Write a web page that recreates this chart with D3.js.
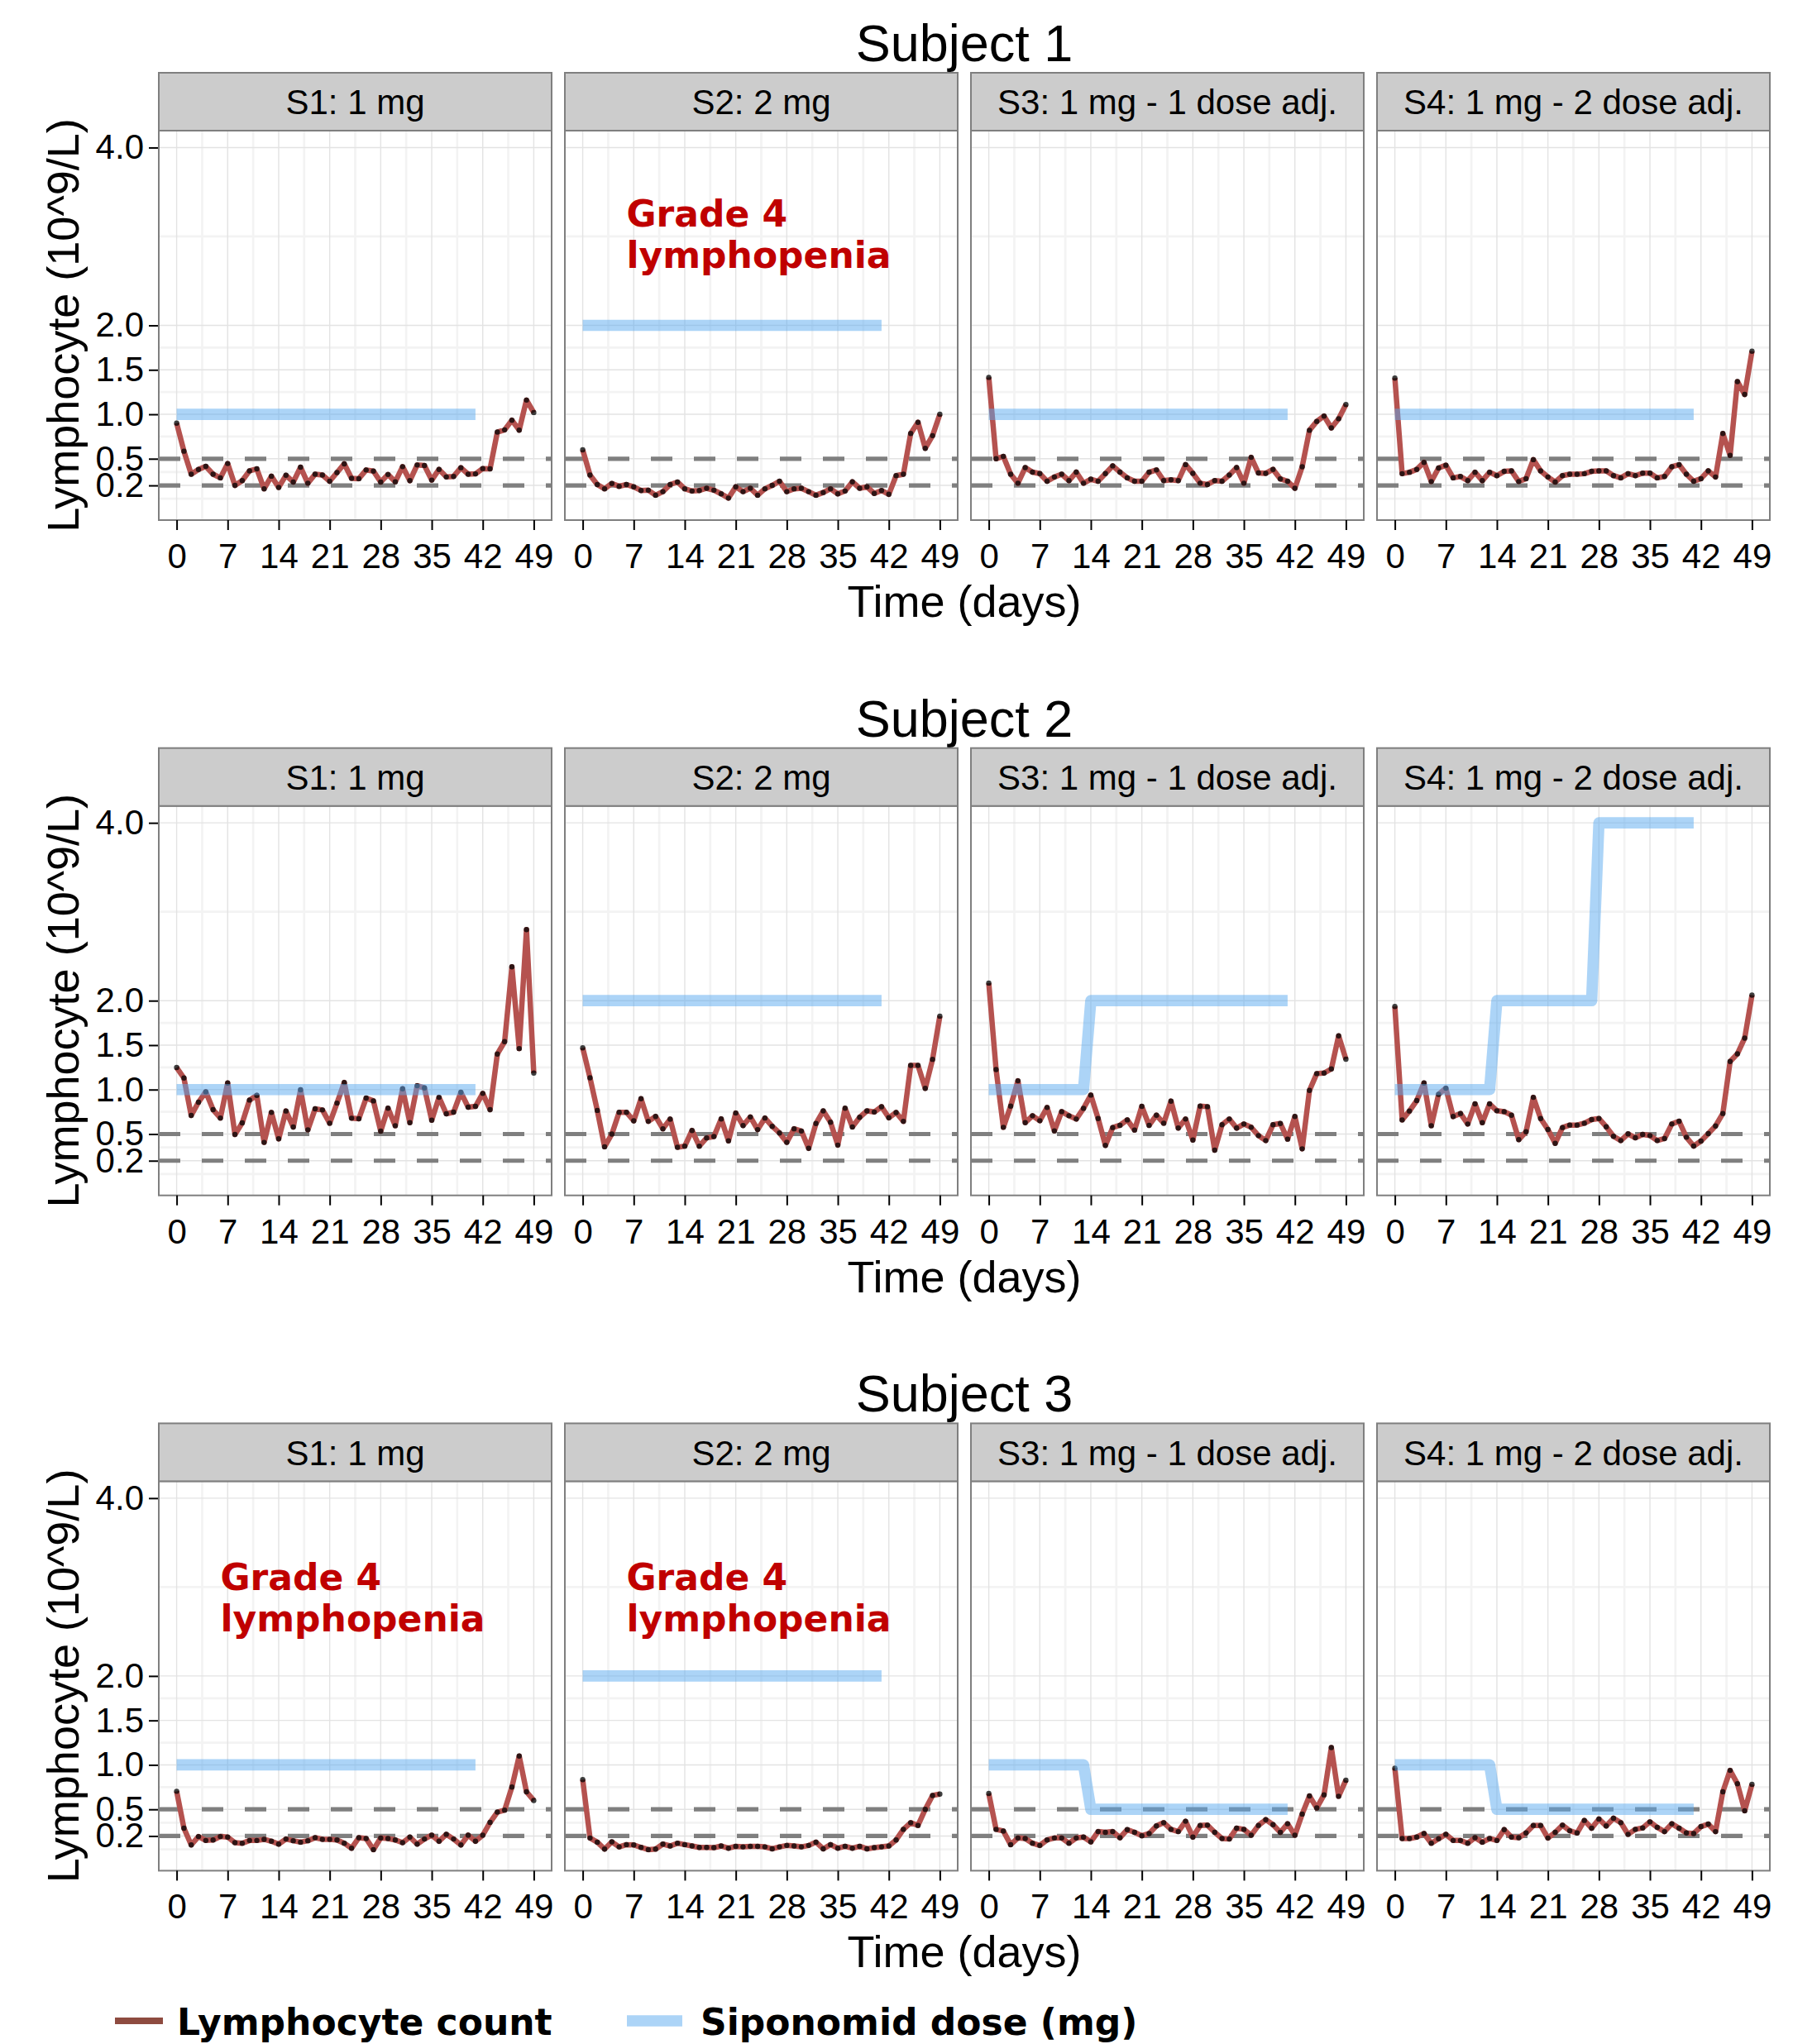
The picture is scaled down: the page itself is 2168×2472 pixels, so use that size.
<!DOCTYPE html>
<html>
<head>
<meta charset="utf-8">
<script src="https://cdn.jsdelivr.net/npm/d3@7"></script>
<style>
body { margin: 0; background: #fff; }
</style>
</head>
<body>
<div id="chart"></div>
<script>
var subjects = ["Subject 1", "Subject 2", "Subject 3"];
var periods = ["S1: 1 mg", "S2: 2 mg", "S3: 1 mg - 1 dose adj.", "S4: 1 mg - 2 dose adj."];
var days = [0,1,2,3,4,5,6,7,8,9,10,11,12,13,14,15,16,17,18,19,20,21,22,23,24,
            25,26,27,28,29,30,31,32,33,34,35,36,37,38,39,40,41,42,43,44,45,46,47,48,49];
var xTicks = [0, 7, 14, 21, 28, 35, 42, 49];
var yTicks = [0.2, 0.5, 1.0, 1.5, 2.0, 4.0];
var refLines = [0.2, 0.5];

// lymphocyte count per day, one list per study period
var lymphSubj1 = [
  [0.90,0.585,0.326,0.38,0.415,0.326,0.285,0.446,0.20,0.254,0.364,0.386,0.162,0.304,0.178,0.314,0.238,0.405,0.225,0.326,0.317,0.247,0.345,0.443,0.279,0.276,0.374,0.361,0.238,0.323,0.241,0.411,0.254,0.43,0.424,0.26,0.38,0.295,0.301,0.399,0.326,0.33,0.39,0.386,0.80,0.825,0.933,0.822,1.16,1.02],
  [0.60,0.317,0.21,0.162,0.222,0.19,0.21,0.184,0.143,0.146,0.09,0.13,0.21,0.238,0.162,0.137,0.143,0.168,0.146,0.105,0.058,0.184,0.13,0.168,0.09,0.162,0.20,0.247,0.13,0.162,0.168,0.13,0.09,0.12,0.162,0.105,0.137,0.24,0.168,0.184,0.11,0.143,0.10,0.31,0.326,0.784,0.91,0.617,0.76,1.0],
  [1.415,0.50,0.526,0.326,0.225,0.40,0.349,0.333,0.247,0.295,0.326,0.254,0.349,0.225,0.27,0.247,0.333,0.42,0.349,0.285,0.247,0.247,0.349,0.374,0.254,0.263,0.254,0.434,0.336,0.225,0.21,0.254,0.247,0.317,0.40,0.225,0.516,0.34,0.336,0.38,0.273,0.247,0.168,0.41,0.82,0.92,0.98,0.847,0.95,1.11],
  [1.407,0.332,0.348,0.38,0.459,0.244,0.396,0.427,0.285,0.30,0.254,0.348,0.254,0.348,0.31,0.358,0.364,0.244,0.276,0.49,0.364,0.295,0.238,0.31,0.326,0.326,0.332,0.358,0.364,0.364,0.31,0.285,0.332,0.31,0.338,0.338,0.285,0.30,0.41,0.433,0.326,0.247,0.276,0.364,0.295,0.784,0.538,1.368,1.223,1.709]
];
var lymphSubj2 = [
  [1.248,1.13,0.709,0.858,0.975,0.774,0.68,1.074,0.495,0.625,0.882,0.935,0.406,0.743,0.446,0.759,0.579,0.997,0.548,0.783,0.771,0.622,0.848,1.08,0.678,0.672,0.904,0.873,0.533,0.79,0.594,1.009,0.628,1.043,1.019,0.656,0.913,0.728,0.746,0.969,0.802,0.811,0.957,0.774,1.40,1.539,2.381,1.461,2.799,1.186],
  [1.47,1.132,0.766,0.357,0.50,0.745,0.745,0.649,0.897,0.643,0.698,0.559,0.667,0.351,0.364,0.54,0.364,0.457,0.472,0.67,0.423,0.736,0.596,0.692,0.55,0.68,0.587,0.512,0.407,0.559,0.534,0.339,0.618,0.76,0.633,0.376,0.79,0.58,0.689,0.76,0.748,0.807,0.683,0.742,0.643,1.272,1.272,1.014,1.34,1.826],
  [2.198,1.226,0.576,0.814,1.099,0.628,0.706,0.65,0.799,0.536,0.752,0.706,0.669,0.789,0.938,0.675,0.372,0.573,0.598,0.659,0.545,0.811,0.598,0.712,0.622,0.87,0.567,0.669,0.433,0.814,0.808,0.319,0.604,0.669,0.567,0.613,0.576,0.483,0.427,0.604,0.619,0.443,0.697,0.334,0.991,1.18,1.186,1.232,1.604,1.341],
  [1.935,0.659,0.759,0.876,1.074,0.594,0.947,1.015,0.697,0.731,0.613,0.839,0.628,0.839,0.762,0.752,0.712,0.437,0.526,0.913,0.675,0.551,0.396,0.573,0.601,0.601,0.622,0.663,0.675,0.582,0.474,0.427,0.502,0.458,0.495,0.483,0.427,0.449,0.613,0.644,0.464,0.365,0.421,0.505,0.591,0.731,1.316,1.402,1.579,2.062]
];
var lymphSubj3 = [
  [0.703,0.288,0.10,0.194,0.15,0.156,0.194,0.188,0.125,0.119,0.15,0.15,0.163,0.141,0.109,0.166,0.147,0.131,0.147,0.181,0.163,0.163,0.156,0.119,0.063,0.181,0.172,0.047,0.178,0.172,0.156,0.125,0.188,0.109,0.166,0.209,0.141,0.219,0.166,0.10,0.209,0.141,0.209,0.353,0.469,0.491,0.75,1.10,0.697,0.60],
  [0.834,0.178,0.131,0.053,0.134,0.078,0.103,0.10,0.072,0.047,0.053,0.109,0.088,0.119,0.103,0.088,0.072,0.072,0.069,0.088,0.063,0.084,0.078,0.084,0.084,0.078,0.056,0.078,0.094,0.088,0.078,0.094,0.131,0.056,0.103,0.063,0.084,0.063,0.084,0.056,0.069,0.078,0.088,0.156,0.275,0.35,0.319,0.50,0.656,0.672],
  [0.678,0.275,0.256,0.103,0.178,0.172,0.119,0.094,0.156,0.178,0.178,0.119,0.178,0.188,0.134,0.25,0.241,0.25,0.181,0.272,0.241,0.203,0.228,0.313,0.35,0.275,0.25,0.366,0.188,0.319,0.322,0.241,0.172,0.166,0.288,0.275,0.209,0.319,0.384,0.328,0.241,0.338,0.209,0.447,0.65,0.516,0.663,1.194,0.647,0.828],
  [0.963,0.172,0.172,0.188,0.228,0.119,0.17,0.219,0.15,0.15,0.119,0.181,0.131,0.172,0.15,0.272,0.188,0.181,0.234,0.319,0.319,0.178,0.241,0.322,0.259,0.234,0.375,0.288,0.391,0.313,0.40,0.35,0.219,0.275,0.291,0.359,0.297,0.25,0.338,0.288,0.234,0.228,0.306,0.334,0.25,0.697,0.938,0.788,0.484,0.781]
];

// dose schedule as [day, mg] vertices
var doseSubj1 = [
  [[0, 1], [41, 1]],
  [[0, 2], [41, 2]],
  [[0, 1], [41, 1]],
  [[0, 1], [41, 1]]
];
var doseSubj2 = [
  [[0, 1], [41, 1]],
  [[0, 2], [41, 2]],
  [[0, 1], [13, 1], [14, 2], [41, 2]],
  [[0, 1], [13, 1], [14, 2], [27, 2], [28, 4], [41, 4]]
];
var doseSubj3 = [
  [[0, 1], [41, 1]],
  [[0, 2], [41, 2]],
  [[0, 1], [13, 1], [14, 0.5], [41, 0.5]],
  [[0, 1], [13, 1], [14, 0.5], [41, 0.5]]
];

// panels with the grade 4 note: [subject index, period index, x, y]
var gradeNotes = [[0, 1, 6, 3.0], [2, 0, 6, 2.85], [2, 1, 6, 2.85]];
var noteLines = ["Grade 4", "lymphopenia"];
var legendLabels = ["Lymphocyte count", "Siponomid dose (mg)"];

var lymph = [lymphSubj1, lymphSubj2, lymphSubj3];
var dose = [doseSubj1, doseSubj2, doseSubj3];

var W = 2168, H = 2472;
var panelLeft = 192, panelStep = 491, panelW = 475, panelH = 471;
var rowTop0 = 158, rowStep = 816.7, stripH = 70;

var redCol = "#b5524f", blueCol = "#5aa9ef", greyCol = "#7f7f7f";
var sansFont = "'Liberation Sans', Arial, Helvetica, sans-serif";
var boldFont = "'DejaVu Sans', Verdana, sans-serif";

var svg = d3.select("#chart").append("svg")
    .attr("width", W)
    .attr("height", H)
    .style("background", "#fff");

var defs = svg.append("defs");

var x = d3.scaleLinear().domain([-2.45, 51.45]).range([0, panelW]);
var y = d3.scaleLinear().domain([-0.19, 4.19]).range([panelH, 0]);

var xMinor = xTicks.slice(0, -1).map(d => d + 3.5);
var yMinor = [0.05, 0.35, 0.75, 1.25, 1.75, 3.0];

var lineGen = d3.line().x(d => x(d[0])).y(d => y(d[1]));

subjects.forEach(function(subj, r) {
    var top = rowTop0 + r * rowStep;

    var row = svg.append("g").attr("transform", "translate(0," + top + ")");

    // title
    row.append("text")
        .attr("x", panelLeft + (3 * panelStep + panelW) / 2)
        .attr("y", -84)
        .attr("text-anchor", "middle")
        .style("font-family", sansFont)
        .style("font-size", "63px")
        .text(subj);

    // y axis title
    row.append("text")
        .attr("transform", "translate(95," + (panelH / 2) + ") rotate(-90)")
        .attr("text-anchor", "middle")
        .style("font-family", sansFont)
        .style("font-size", "54px")
        .text("Lymphocyte (10^9/L)");

    // x axis title
    row.append("text")
        .attr("x", panelLeft + (3 * panelStep + panelW) / 2)
        .attr("y", panelH + 117)
        .attr("text-anchor", "middle")
        .style("font-family", sansFont)
        .style("font-size", "54px")
        .text("Time (days)");

    // y axis on first panel
    var yAxis = row.append("g")
        .attr("transform", "translate(" + panelLeft + ",0)")
        .call(d3.axisLeft(y).tickValues(yTicks).tickFormat(d3.format(".1f")).tickSize(12).tickPadding(6));
    yAxis.select(".domain").remove();
    yAxis.selectAll("line").attr("stroke", "#000").attr("stroke-width", 2);
    yAxis.selectAll("text")
        .style("font-family", sansFont)
        .style("font-size", "42px")
        .attr("fill", "#000");

    periods.forEach(function(per, c) {
        var left = panelLeft + c * panelStep;
        var g = row.append("g").attr("transform", "translate(" + left + ",0)");
        var clipId = "clip" + r + "_" + c;

        defs.append("clipPath").attr("id", clipId)
            .append("rect").attr("width", panelW).attr("height", panelH);

        g.append("rect")
            .attr("width", panelW)
            .attr("height", panelH)
            .attr("fill", "#fff");

        // grid
        g.selectAll(".vminor").data(xMinor).join("line")
            .attr("x1", d => x(d)).attr("x2", d => x(d))
            .attr("y1", 0).attr("y2", panelH)
            .attr("stroke", "#f3f3f3").attr("stroke-width", 2.7);
        g.selectAll(".hminor").data(yMinor).join("line")
            .attr("y1", d => y(d)).attr("y2", d => y(d))
            .attr("x1", 0).attr("x2", panelW)
            .attr("stroke", "#f3f3f3").attr("stroke-width", 2.7);
        g.selectAll(".vmajor").data(xTicks).join("line")
            .attr("x1", d => x(d)).attr("x2", d => x(d))
            .attr("y1", 0).attr("y2", panelH)
            .attr("stroke", "#e3e3e3").attr("stroke-width", 1.4);
        g.selectAll(".hmajor").data(yTicks).join("line")
            .attr("y1", d => y(d)).attr("y2", d => y(d))
            .attr("x1", 0).attr("x2", panelW)
            .attr("stroke", "#e3e3e3").attr("stroke-width", 1.4);

        var plot = g.append("g").attr("clip-path", "url(#" + clipId + ")");

        // reference lines
        plot.selectAll(".ref").data(refLines).join("line")
            .attr("x1", 0).attr("x2", panelW)
            .attr("y1", d => y(d)).attr("y2", d => y(d))
            .attr("stroke", greyCol)
            .attr("stroke-width", 5.2)
            .attr("stroke-dasharray", "26,26");

        var pts = days.map((d, i) => [d, lymph[r][c][i]]);

        plot.append("path")
            .datum(pts)
            .attr("d", lineGen)
            .attr("fill", "none")
            .attr("stroke", redCol)
            .attr("stroke-width", 6.5)
            .attr("stroke-linejoin", "round");

        plot.selectAll(".pt").data(pts).join("circle")
            .attr("cx", d => x(d[0]))
            .attr("cy", d => y(d[1]))
            .attr("r", 3.2)
            .attr("fill", "#000")
            .attr("fill-opacity", 0.75);

        plot.append("path")
            .datum(dose[r][c])
            .attr("d", lineGen)
            .attr("fill", "none")
            .attr("stroke", blueCol)
            .attr("stroke-opacity", 0.5)
            .attr("stroke-width", 13.7)
            .attr("stroke-linejoin", "round")
            .attr("stroke-linecap", "butt");

        gradeNotes.filter(n => n[0] == r && n[1] == c).forEach(function(n) {
            var t = plot.append("text")
                .attr("x", x(n[2]))
                .attr("y", y(n[3]))
                .attr("fill", "#c00000")
                .style("font-family", boldFont)
                .style("font-weight", "bold")
                .style("font-size", "44px");
            t.append("tspan").attr("x", x(n[2])).attr("dy", -12).text(noteLines[0]);
            t.append("tspan").attr("x", x(n[2])).attr("dy", 50).text(noteLines[1]);
        });

        // panel border
        g.append("rect")
            .attr("width", panelW)
            .attr("height", panelH)
            .attr("fill", "none")
            .attr("stroke", greyCol)
            .attr("stroke-width", 2);

        // strip
        g.append("rect")
            .attr("y", -stripH)
            .attr("width", panelW)
            .attr("height", stripH)
            .attr("fill", "#cccccc")
            .attr("stroke", greyCol)
            .attr("stroke-width", 2);
        g.append("text")
            .attr("x", panelW / 2)
            .attr("y", -stripH / 2)
            .attr("dy", "0.36em")
            .attr("text-anchor", "middle")
            .style("font-family", sansFont)
            .style("font-size", "42px")
            .text(per);

        // x axis
        var xAxis = g.append("g")
            .attr("transform", "translate(0," + panelH + ")")
            .call(d3.axisBottom(x).tickValues(xTicks).tickSize(12).tickPadding(16));
        xAxis.select(".domain").remove();
        xAxis.selectAll("line").attr("stroke", "#000").attr("stroke-width", 2);
        xAxis.selectAll("text")
            .style("font-family", sansFont)
            .style("font-size", "42px")
            .attr("fill", "#000");
    });
});

// legend
var leg = svg.append("g").attr("transform", "translate(0,2444)");
var legItems = [
    {label: legendLabels[0], x1: 139, x2: 197, tx: 214, col: "#8e4b40", w: 8, op: 1},
    {label: legendLabels[1], x1: 758, x2: 825, tx: 847, col: blueCol, w: 13.7, op: 0.5}
];
legItems.forEach(function(it) {
    leg.append("line")
        .attr("x1", it.x1).attr("x2", it.x2)
        .attr("y1", 0).attr("y2", 0)
        .attr("stroke", it.col)
        .attr("stroke-opacity", it.op)
        .attr("stroke-width", it.w);
    leg.append("text")
        .attr("x", it.tx)
        .attr("y", 17)
        .style("font-family", boldFont)
        .style("font-weight", "bold")
        .style("font-size", "44px")
        .text(it.label);
});
</script>
</body>
</html>
